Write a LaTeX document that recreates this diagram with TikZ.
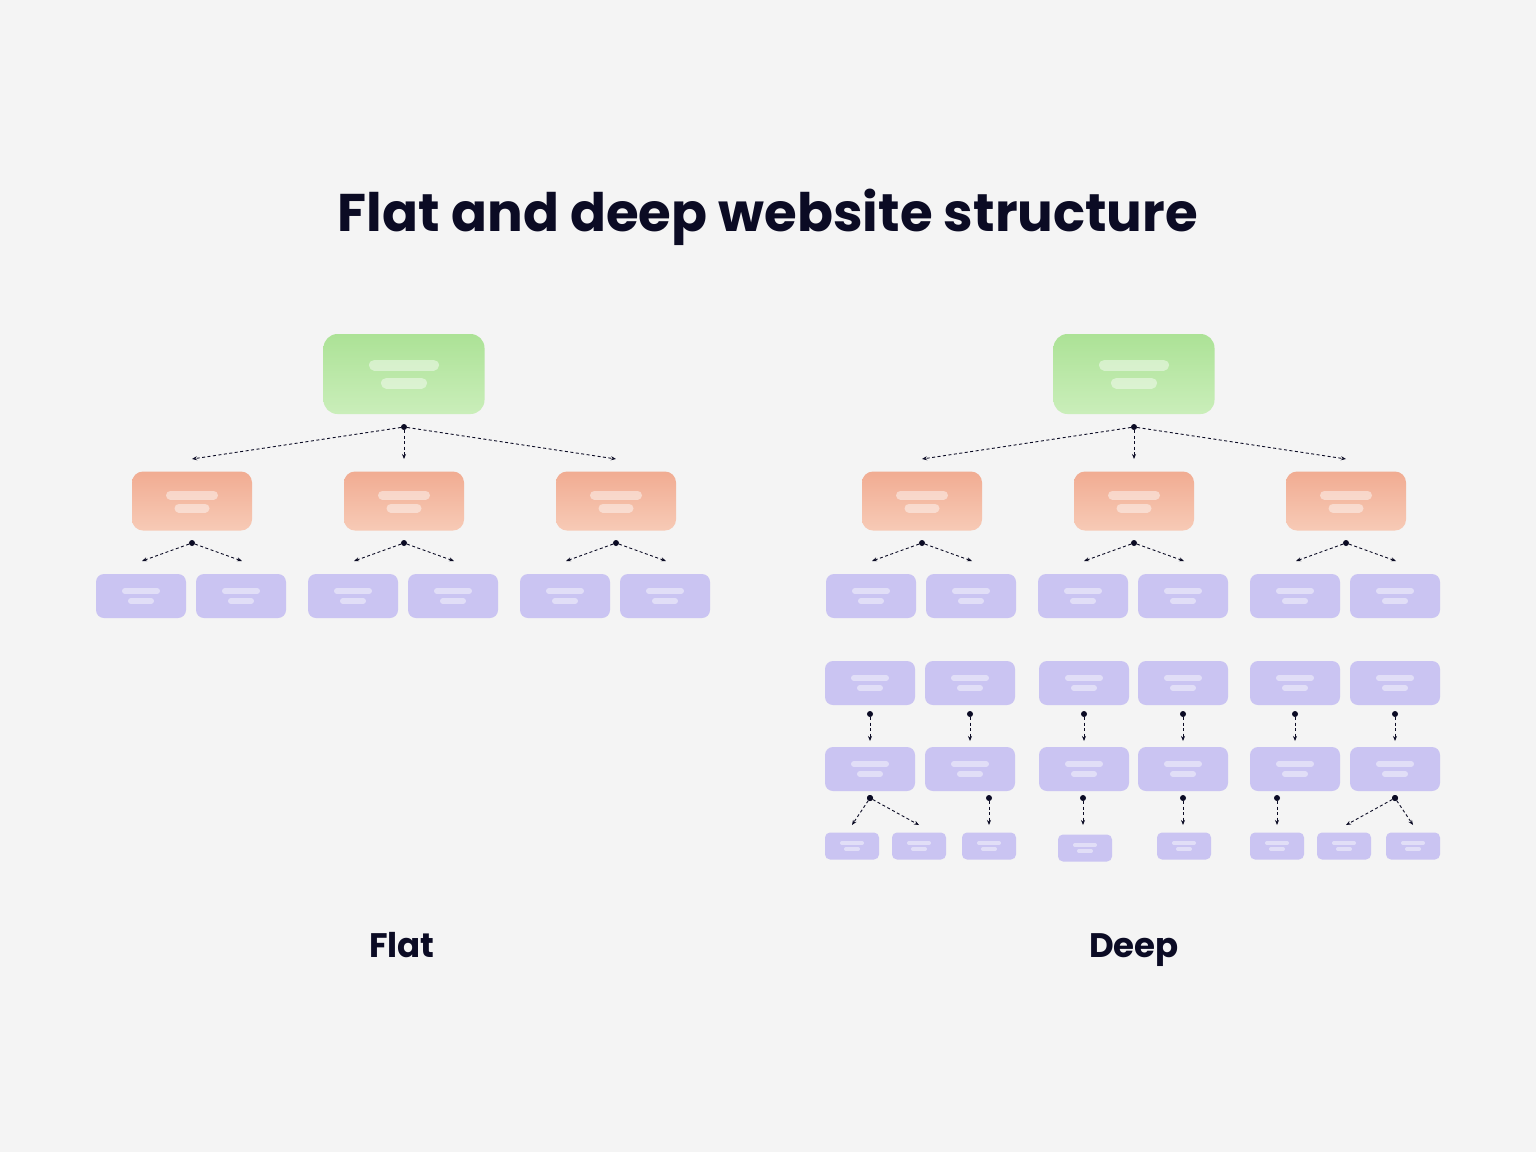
\documentclass[tikz,border=0pt]{standalone}
\usepackage{fontspec}
\setmainfont{Poppins}
\usetikzlibrary{arrows.meta}
\definecolor{bg}{HTML}{F4F4F4}
\definecolor{ink}{HTML}{0B0B24}
\tikzset{
  x=1pt,y=-1pt,
  grn/.style={rounded corners=14pt,top color={rgb,255:red,172;green,226;blue,150},bottom color={rgb,255:red,202;green,238;blue,186},draw=none},
  org/.style={rounded corners=11pt,top color={rgb,255:red,241;green,172;blue,146},bottom color={rgb,255:red,247;green,202;blue,182},draw=none},
  pur/.style={rounded corners=8pt,fill={rgb,255:red,202;green,196;blue,242},draw=none},
  spur/.style={rounded corners=5pt,fill={rgb,255:red,202;green,196;blue,242},draw=none},
  bar/.style={draw=white,draw opacity=0.45,line cap=round},
  con/.style={draw=ink,line width=0.9pt,dash pattern=on 3pt off 2.5pt,-{Stealth[length=5pt,width=4pt]}},
  dot/.style={circle,fill=ink,inner sep=0pt,minimum size=6pt},
  lab/.style={font=\bfseries\fontsize{34}{40}\selectfont,text=ink,anchor=base},
}
\newcommand\pg[9]{%
  \node[#6,minimum width=#4pt,minimum height=#5pt,inner sep=0pt] (#1) at (#2,#3) {};
  \draw[bar,line width=#7pt] (#2-#8/2+#7/2,#3-#9) -- (#2+#8/2-#7/2,#3-#9);
}
\newcommand\pgb[5]{%
  \draw[bar,line width=#3pt] (#1-#4/2+#3/2,#2+#5) -- (#1+#4/2-#3/2,#2+#5);
}
\begin{document}
\begin{tikzpicture}
\fill[bg] (0,0) rectangle (1536,1152);
\useasboundingbox (0,0) rectangle (1536,1152);
\node[font=\bfseries\fontsize{53}{62}\selectfont,text=ink,anchor=base] (title) at (768,231) {Flat and deep website structure};
\node[lab] (lflat) at (402,957) {Flat};
\node[lab] (ldeep) at (1134,957) {Deep};

\foreach \s/\p in {0/f,730/d}{
  \pg{\p root}{404+\s}{374}{161}{80}{grn}{11}{70}{9}
  \pgb{404+\s}{374}{11}{46}{9}
  \node[dot] (\p rd) at (404+\s,427) {};
  \foreach \i/\cx in {1/192,2/404,3/616}{
    \coordinate (\p ra\i) at (\cx+\s,459);
    \draw[con] (\p rd) -- (\p ra\i);
    \pg{\p o\i}{\cx+\s}{501}{120}{59}{org}{9}{52}{6}
    \pgb{\cx+\s}{501}{9}{35}{7}
    \node[dot] (\p od\i) at (\cx+\s,543) {};
    \foreach \j/\dx in {a/-50,b/50}{
      \coordinate (\p oa\i\j) at (\cx+\s+\dx,561);
      \draw[con] (\p od\i) -- (\p oa\i\j);
    }
    \foreach \j/\dx in {a/-51,b/49}{
      \pg{\p p\i\j}{\cx+\s+\dx}{596}{90}{44}{pur}{6}{38}{5}
      \pgb{\cx+\s+\dx}{596}{6}{26}{5}
    }
  }
}
\foreach \i/\x in {1/870,2/970,3/1084,4/1183,5/1295,6/1395}{
  \pg{q\i}{\x}{683}{90}{44}{pur}{6}{38}{5}
  \pgb{\x}{683}{6}{26}{5}
  \node[dot] (qd\i) at (\x,714) {};
  \coordinate (qa\i) at (\x,741);
  \draw[con] (qd\i) -- (qa\i);
  \pg{r\i}{\x}{769}{90}{44}{pur}{6}{38}{5}
  \pgb{\x}{769}{6}{26}{5}
}
\foreach \i/\x/\y in {1/852/846,2/919/846,3/989/846,4/1085/848,5/1184/846,6/1277/846,7/1344/846,8/1413/846}{
  \pg{s\i}{\x}{\y}{54}{27}{spur}{4}{24}{3}
  \pgb{\x}{\y}{4}{16}{3}
}
\foreach \n/\x/\t in {1/870/852,2/870/919,3/989/989,4/1083/1083,5/1183/1183,6/1277/1277,7/1395/1346,8/1395/1413}{
  \node[dot] (td\n) at (\x,798) {};
  \coordinate (ta\n) at (\t,825);
  \draw[con] (td\n) -- (ta\n);
}
\end{tikzpicture}
\end{document}
